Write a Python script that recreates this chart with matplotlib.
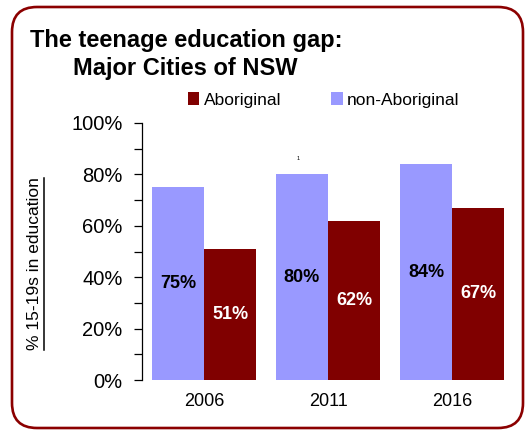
import matplotlib.pyplot as plt
from matplotlib.patches import FancyBboxPatch
from matplotlib.lines import Line2D
from matplotlib.ticker import MultipleLocator, PercentFormatter

plt.rcParams['font.family'] = ['Liberation Sans', 'DejaVu Sans']

# Chart data
YEARS = ["2006", "2011", "2016"]
NON_ABORIGINAL = [75, 80, 84]
ABORIGINAL = [51, 62, 67]

COLOR_ABO = "#800000"
COLOR_NON = "#9999FF"

fig = plt.figure(figsize=(5.31, 4.30), dpi=100)
ax = fig.add_axes([142 / 531, 50 / 430, 372 / 531, 257 / 430])

x = range(len(YEARS))
width = 0.42
bars_non = ax.bar([i - width / 2 for i in x], NON_ABORIGINAL, width,
                  color=COLOR_NON, label="non-Aboriginal")
bars_abo = ax.bar([i + width / 2 for i in x], ABORIGINAL, width,
                  color=COLOR_ABO, label="Aboriginal")

# Value labels in the middle of each bar
ax.bar_label(bars_non, labels=[f"{v}%" for v in NON_ABORIGINAL], label_type="center",
             fontsize=13, fontweight="bold", color="black")
ax.bar_label(bars_abo, labels=[f"{v}%" for v in ABORIGINAL], label_type="center",
             fontsize=13, fontweight="bold", color="white")

# Axes styling
ax.set_xlim(-0.5, len(YEARS) - 0.5)
ax.set_ylim(0, 100)
ax.set_xticks(list(x))
ax.set_xticklabels(YEARS, fontsize=13)
ax.tick_params(axis="x", length=0, pad=9)
ax.yaxis.set_major_locator(MultipleLocator(20))
ax.yaxis.set_minor_locator(MultipleLocator(10))
ax.yaxis.set_major_formatter(PercentFormatter(decimals=0))
ax.tick_params(axis="y", which="both", direction="out", length=6, width=0.9, labelsize=14.5, pad=8)
for side in ("top", "right", "bottom"):
    ax.spines[side].set_visible(False)
ax.spines["left"].set_linewidth(0.9)

# Legend (Aboriginal first)
ax.legend(handles=[bars_abo, bars_non], labels=["Aboriginal", "non-Aboriginal"],
          loc="center left", bbox_to_anchor=(188 / 531, 1 - 100 / 430),
          bbox_transform=fig.transFigure, ncol=2, frameon=False, fontsize=12.5,
          handlelength=0.65, handleheight=0.7, handletextpad=0.25,
          columnspacing=2.9, borderpad=0, borderaxespad=0)

# Title lines
fig.text(30 / 531, 1 - 40 / 430, "The teenage education gap:", fontsize=17,
         fontweight="bold", ha="left", va="center")
fig.text(73 / 531, 1 - 68 / 430, "Major Cities of NSW", fontsize=17,
         fontweight="bold", ha="left", va="center")

# Small stray mark from the original
fig.text(298 / 531, 1 - 158 / 430, "1", fontsize=4, ha="center", va="center")

# Underlined y-axis label
ylab = fig.text(35 / 531, 1 - 264 / 430, "% 15-19s in education", fontsize=12.5,
                rotation=90, ha="center", va="center")
fig.canvas.draw()
bb = ylab.get_window_extent()
W, H = fig.bbox.width, fig.bbox.height
fig.add_artist(Line2D([(bb.x1 + 1) / W] * 2, [bb.y0 / H, bb.y1 / H],
                      transform=fig.transFigure, color="black", linewidth=1.1))

# Rounded border round the whole chart
border = FancyBboxPatch((12, 2), 511, 421, boxstyle="round,pad=0,rounding_size=25",
                        transform=None, fill=False, edgecolor="#8B0000", linewidth=1.9)
fig.add_artist(border)

fig.savefig("out.png", dpi=100)
